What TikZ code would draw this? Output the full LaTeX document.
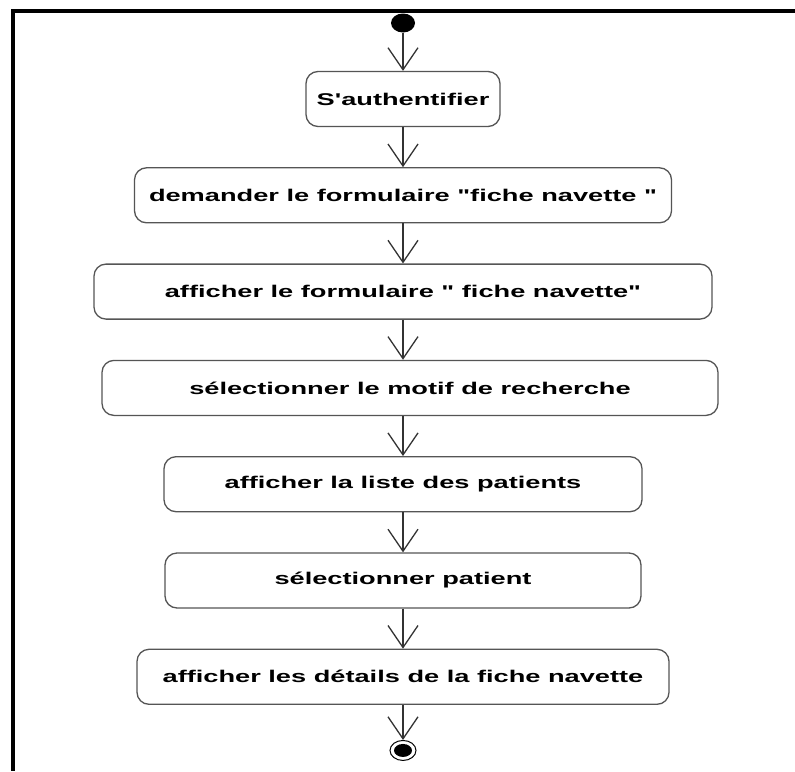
\documentclass[tikz,border=0pt]{standalone}
\usepackage{fontspec}
\setmainfont{Liberation Sans}[FakeStretch=1.6,Ligatures=TeXOff]
\usepackage{tikz}
\usetikzlibrary{arrows.meta,positioning,shapes.geometric}
\definecolor{boxgray}{HTML}{555555}
\definecolor{linegray}{HTML}{333333}
\tikzset{
  action/.style={draw=boxgray,line width=1.3pt,rounded corners=12pt,fill=white,
    minimum height=55pt,inner sep=0pt,align=center,
    font=\fontsize{17}{20}\selectfont\bfseries},
  flow/.style={-{Straight Barb[length=22pt,width=30pt]},line width=1.3pt,draw=linegray},
  startdot/.style={ellipse,fill=black,minimum width=24pt,minimum height=19pt,inner sep=0pt},
  enddot/.style={ellipse,draw=black,line width=1pt,fill=white,minimum width=26pt,
    minimum height=20pt,inner sep=0pt}
}

\begin{document}
\begin{tikzpicture}[x=1pt,y=-1pt,node distance=40pt]
\useasboundingbox (0,0) rectangle (795,771);
\fill[white] (0,0) rectangle (795,771);
\draw[line width=4pt] (795,11) -- (13,11) -- (13,771);
\node[startdot] (start) at (403,23) {};
\node[action,minimum width=194pt] (auth) at (403,99) {S'authentifier};
\node[action,minimum width=537pt,below=of auth] (demande) {demander le formulaire "fiche navette "};
\node[action,minimum width=618pt,below=of demande] (formaff) {afficher le formulaire " fiche navette"};
\node[action,minimum width=616pt,below=of formaff,xshift=7pt] (motif) {sélectionner le motif de recherche};
\node[action,minimum width=478pt,below=of motif,xshift=-7pt] (liste) {afficher la liste des patients};
\node[action,minimum width=476pt,below=of liste] (patient) {sélectionner patient};
\node[action,minimum width=532pt,below=of patient] (details) {afficher les détails de la fiche navette};
\node[enddot,below=35pt of details] (fin) {};
\fill[black] (fin.center) ellipse (9pt and 6.5pt);
\draw[flow] (start) -- (auth);
\draw[flow] (auth) -- (demande);
\draw[flow] (demande) -- (formaff);
\draw[flow] (formaff) -- (motif.north -| formaff);
\draw[flow] (motif.south -| liste) -- (liste);
\draw[flow] (liste) -- (patient);
\draw[flow] (patient) -- (details);
\draw[flow] (details) -- (fin);
\end{tikzpicture}
\end{document}
